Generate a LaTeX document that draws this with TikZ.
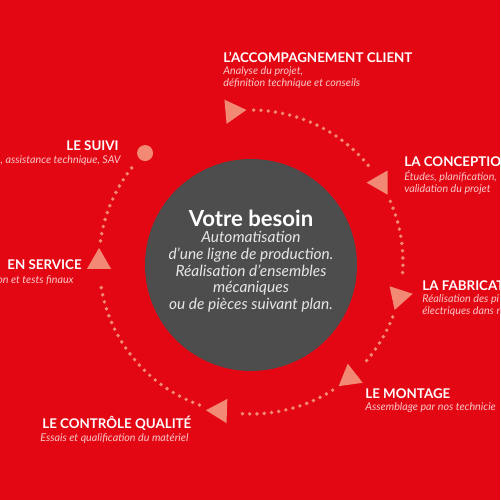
\documentclass[tikz,border=0pt]{standalone}
\usepackage{fontspec}
\setmainfont{Lato}
\usetikzlibrary{positioning, shapes.geometric, calc}
\definecolor{bgred}{RGB}{227,6,19}
\definecolor{salmon}{RGB}{242,137,116}
\definecolor{discgrey}{RGB}{77,77,77}
\definecolor{subpink}{RGB}{250,200,200}
\definecolor{bodygrey}{RGB}{230,230,230}
\newcommand{\ringrad}{3.04cm}

\begin{document}
\begin{tikzpicture}[
    x=0.02cm, y=0.02cm,
    head/.style={font=\fontsize{7.6}{8}\selectfont\bfseries, text=white, inner sep=0pt},
    sub/.style={font=\fontsize{6.1}{6.6}\selectfont\itshape, text=subpink, inner sep=0pt, align=left},
    tri/.style={regular polygon, regular polygon sides=3, fill=salmon, inner sep=0pt, minimum size=0.56cm},
    dotline/.style={salmon, line width=2.2pt, line cap=round, dash pattern=on 0pt off 4.15pt}
]
    \useasboundingbox[fill=bgred] (0,0) rectangle (500,500);
    \clip (0,0) rectangle (500,500);
    \coordinate (c) at (251,238);

    % centre disc
    \node[circle, fill=discgrey, minimum size=4.24cm, inner sep=0pt] (disc) at (251,235) {};
    \node[font=\fontsize{12.6}{13}\selectfont\bfseries, text=white, inner sep=0pt, anchor=base] (besoin) at (251,273) {Votre besoin};
    \node[font=\fontsize{8.8}{9.5}\selectfont\itshape, text=bodygrey, inner sep=0pt, align=center,
          anchor=north] (need) at ([yshift=-0.08cm]besoin.base) {Automatisation\\d’une ligne de production.\\Réalisation d’ensembles\\mécaniques\\ou de pièces suivant plan.};

    % dotted ring
    \foreach \a/\b in {89/39.5, 23.5/-5.2, -21.2/-41.5, -57.5/-93.8, -109.8/-172, -188/-220}
        \draw[dotline] ($(c)+(\a:\ringrad)$) arc[start angle=\a, end angle=\b, radius=\ringrad];

    % arrow heads and end dot
    \node[tri, shape border rotate=-85] (accompTri) at ($(c)+(97:\ringrad)$) {};
    \node[tri, shape border rotate=90] (concTri) at ($(c)+(31.5:\ringrad)$) {};
    \node[tri, shape border rotate=-78] (fabTri) at ($(c)+(-13.2:\ringrad)$) {};
    \node[tri, shape border rotate=8] (montTri) at ($(c)+(-49.5:\ringrad)$) {};
    \node[tri, shape border rotate=88] (ctrlTri) at ($(c)+(-101.8:\ringrad)$) {};
    \node[tri, shape border rotate=0] (servTri) at ($(c)+(180:\ringrad)$) {};
    \node[circle, fill=salmon, minimum size=0.32cm, inner sep=0pt] (suiviDot) at ($(c)+(134.2:\ringrad)$) {};

    % step labels
    \node[head, anchor=base west] (accomp) at (223,437) {L’ACCOMPAGNEMENT CLIENT};
    \node[sub, anchor=north west] (accompSub) at ([yshift=-0.07cm]accomp.base west) {Analyse du projet,\\définition technique et conseils};

    \node[head, anchor=base west] (conc) at (404,333) {LA CONCEPTIO};
    \node[sub, anchor=north west] (concSub) at ([yshift=-0.07cm]conc.base west) {Études, planification,\\validation du projet};

    \node[head, anchor=base west] (fab) at (422,209) {LA FABRICAT};
    \node[sub, anchor=north west] (fabSub) at ([yshift=-0.07cm]fab.base west) {Réalisation des pi\\électriques dans n};

    \node[head, anchor=base west] (mont) at (365,101) {LE MONTAGE};
    \node[sub, anchor=north west] (montSub) at ([yshift=-0.07cm]mont.base west) {Assemblage par nos technicie};

    \node[head, anchor=base west] (ctrl) at (42,71) {LE CONTRÔLE QUALITÉ};
    \node[sub, anchor=base west] (ctrlSub) at (40,58) {Essais et qualification du matériel};

    \node[head, anchor=base east] (serv) at (82,230) {EN SERVICE};
    \node[sub, anchor=base east] (servSub) at (74,216) {on et tests finaux};

    \node[head, anchor=base east] (suivi) at (119,349) {LE SUIVI};
    \node[sub, anchor=base east] (suiviSub) at (121,336) {, assistance technique, SAV};
\end{tikzpicture}
\end{document}
